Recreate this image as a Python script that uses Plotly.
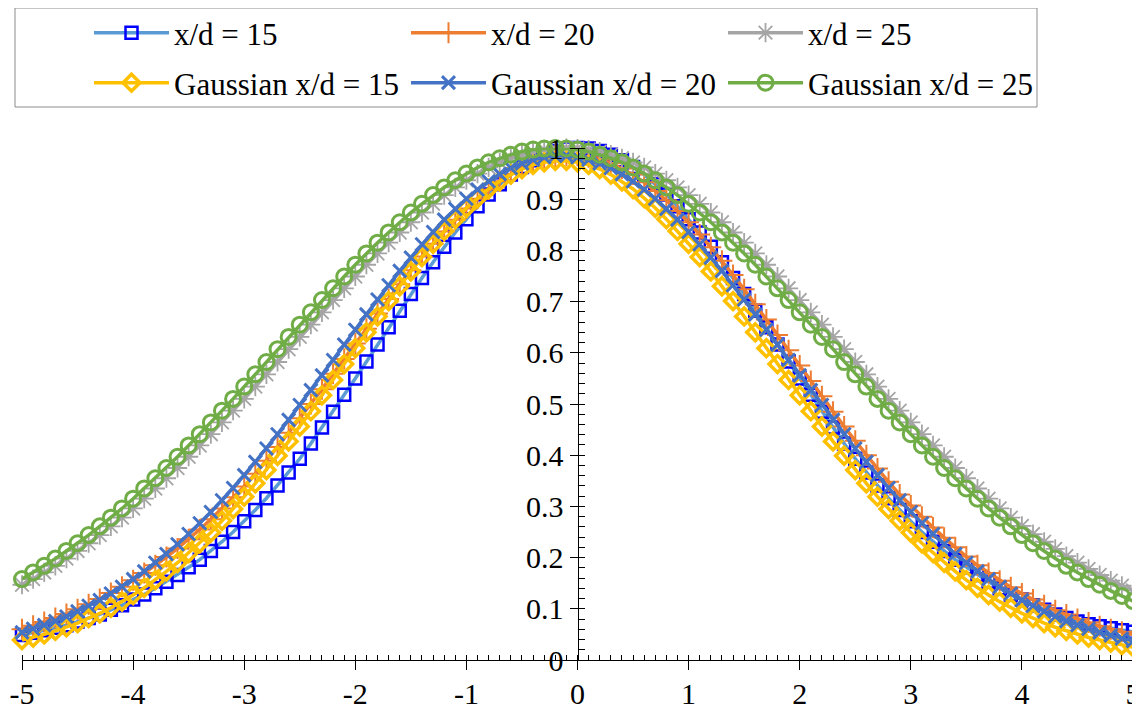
import plotly.graph_objects as go

# ---------------- data ----------------
X_POS = [-5.0, -4.9, -4.8, -4.7, -4.6, -4.5, -4.4, -4.3, -4.2, -4.1,
         -4.0, -3.9, -3.8, -3.7, -3.6, -3.5, -3.4, -3.3, -3.2, -3.1,
         -3.0, -2.9, -2.8, -2.7, -2.6, -2.5, -2.4, -2.3, -2.2, -2.1,
         -2.0, -1.9, -1.8, -1.7, -1.6, -1.5, -1.4, -1.3, -1.2, -1.1,
         -1.0, -0.9, -0.8, -0.7, -0.6, -0.5, -0.4, -0.3, -0.2, -0.1,
         0.0, 0.1, 0.2, 0.3, 0.4, 0.5, 0.6, 0.7, 0.8, 0.9,
         1.0, 1.1, 1.2, 1.3, 1.4, 1.5, 1.6, 1.7, 1.8, 1.9,
         2.0, 2.1, 2.2, 2.3, 2.4, 2.5, 2.6, 2.7, 2.8, 2.9,
         3.0, 3.1, 3.2, 3.3, 3.4, 3.5, 3.6, 3.7, 3.8, 3.9,
         4.0, 4.1, 4.2, 4.3, 4.4, 4.5, 4.6, 4.7, 4.8, 4.9, 5.0]

XD15 = [0.049, 0.053, 0.058, 0.063, 0.068, 0.075, 0.082, 0.089, 0.098, 0.107,
        0.118, 0.128, 0.140, 0.153, 0.166, 0.181, 0.196, 0.213, 0.231, 0.250,
        0.271, 0.293, 0.316, 0.341, 0.366, 0.393, 0.423, 0.454, 0.485, 0.518,
        0.550, 0.583, 0.616, 0.650, 0.682, 0.715, 0.746, 0.777, 0.807, 0.835,
        0.861, 0.886, 0.909, 0.929, 0.948, 0.963, 0.976, 0.987, 0.994, 0.999,
        1.000,
        0.999, 0.994, 0.987, 0.976, 0.963, 0.948, 0.929, 0.909, 0.886, 0.861,
        0.835, 0.807, 0.777, 0.746, 0.715, 0.682, 0.650, 0.616, 0.583, 0.550,
        0.518, 0.485, 0.454, 0.423, 0.393, 0.366, 0.341, 0.316, 0.293, 0.271,
        0.250, 0.231, 0.213, 0.196, 0.181, 0.166, 0.153, 0.140, 0.128, 0.118,
        0.107, 0.098, 0.089, 0.082, 0.075, 0.070, 0.066, 0.062, 0.058, 0.055]

XD20 = [0.060, 0.067, 0.074, 0.082, 0.090, 0.099, 0.109, 0.119, 0.131, 0.143,
        0.156, 0.170, 0.185, 0.201, 0.218, 0.236, 0.255, 0.275, 0.296, 0.318,
        0.339, 0.364, 0.389, 0.416, 0.444, 0.472, 0.500, 0.529, 0.559, 0.588,
        0.618, 0.647, 0.677, 0.705, 0.734, 0.761, 0.788, 0.813, 0.837, 0.860,
        0.882, 0.901, 0.919, 0.935, 0.949, 0.961, 0.970, 0.977, 0.982, 0.985,
        0.985, 0.982, 0.977, 0.970, 0.960, 0.948, 0.933, 0.916, 0.898, 0.877,
        0.855, 0.831, 0.806, 0.780, 0.752, 0.724, 0.695, 0.665, 0.635, 0.605,
        0.575, 0.545, 0.515, 0.485, 0.456, 0.428, 0.400, 0.374, 0.348, 0.323,
        0.302, 0.280, 0.259, 0.239, 0.220, 0.202, 0.185, 0.170, 0.155, 0.142,
        0.130, 0.118, 0.107, 0.097, 0.089, 0.080, 0.073, 0.066, 0.060, 0.055,
        0.050]

XD25 = [0.147, 0.158, 0.171, 0.184, 0.198, 0.213, 0.228, 0.244, 0.261, 0.278,
        0.296, 0.315, 0.335, 0.355, 0.375, 0.397, 0.419, 0.441, 0.464, 0.487,
        0.510, 0.534, 0.558, 0.582, 0.607, 0.631, 0.655, 0.679, 0.703, 0.726,
        0.749, 0.772, 0.794, 0.815, 0.835, 0.855, 0.874, 0.891, 0.908, 0.923,
        0.937, 0.950, 0.962, 0.972, 0.980, 0.987, 0.993, 0.997, 0.999, 1.000,
        0.999, 0.997, 0.993, 0.987, 0.980, 0.972, 0.962, 0.950, 0.937, 0.923,
        0.908, 0.891, 0.874, 0.855, 0.835, 0.815, 0.794, 0.772, 0.749, 0.726,
        0.703, 0.679, 0.655, 0.631, 0.607, 0.582, 0.558, 0.534, 0.510, 0.487,
        0.464, 0.441, 0.419, 0.397, 0.375, 0.355, 0.335, 0.315, 0.296, 0.278,
        0.262, 0.246, 0.231, 0.217, 0.203, 0.190, 0.178, 0.166, 0.155, 0.145,
        0.136]

GAUSS15 = [0.039, 0.044, 0.050, 0.057, 0.064, 0.072, 0.082, 0.091, 0.102, 0.114,
           0.127, 0.141, 0.156, 0.173, 0.190, 0.209, 0.228, 0.249, 0.272, 0.295,
           0.319, 0.345, 0.371, 0.399, 0.427, 0.456, 0.486, 0.517, 0.547, 0.578,
           0.609, 0.640, 0.671, 0.701, 0.730, 0.759, 0.787, 0.813, 0.838, 0.861,
           0.883, 0.902, 0.920, 0.935, 0.948, 0.959, 0.967, 0.972, 0.975,
           0.975, 0.972, 0.967, 0.959, 0.948, 0.935, 0.920, 0.902, 0.883, 0.861,
           0.838, 0.813, 0.787, 0.759, 0.730, 0.701, 0.671, 0.640, 0.609, 0.578,
           0.547, 0.517, 0.486, 0.456, 0.427, 0.399, 0.371, 0.345, 0.319, 0.295,
           0.272, 0.249, 0.228, 0.209, 0.190, 0.173, 0.156, 0.141, 0.127, 0.114,
           0.102, 0.091, 0.082, 0.072, 0.064, 0.057, 0.050, 0.044, 0.039, 0.034,
           0.029, 0.025]

GAUSS20 = [0.054, 0.061, 0.068, 0.076, 0.085, 0.095, 0.106, 0.117, 0.130, 0.143,
           0.158, 0.173, 0.190, 0.207, 0.226, 0.246, 0.267, 0.289, 0.312, 0.336,
           0.361, 0.387, 0.413, 0.441, 0.469, 0.498, 0.527, 0.556, 0.586, 0.616,
           0.645, 0.675, 0.704, 0.732, 0.760, 0.786, 0.812, 0.836, 0.860, 0.881,
           0.901, 0.919, 0.935, 0.949, 0.961, 0.970, 0.977, 0.982, 0.985,
           0.985, 0.982, 0.977, 0.970, 0.961, 0.949, 0.935, 0.919, 0.901, 0.881,
           0.860, 0.836, 0.812, 0.786, 0.760, 0.732, 0.704, 0.675, 0.645, 0.616,
           0.586, 0.556, 0.527, 0.498, 0.469, 0.441, 0.413, 0.387, 0.361, 0.336,
           0.312, 0.289, 0.267, 0.246, 0.226, 0.207, 0.190, 0.173, 0.158, 0.143,
           0.130, 0.117, 0.106, 0.095, 0.085, 0.076, 0.068, 0.061, 0.054, 0.048,
           0.042, 0.037]

GAUSS25 = [0.158, 0.171, 0.184, 0.198, 0.213, 0.228, 0.244, 0.261, 0.278, 0.296,
           0.315, 0.335, 0.355, 0.375, 0.397, 0.419, 0.441, 0.464, 0.487, 0.510,
           0.534, 0.558, 0.582, 0.607, 0.631, 0.655, 0.679, 0.703, 0.726, 0.749,
           0.772, 0.794, 0.815, 0.835, 0.855, 0.874, 0.891, 0.908, 0.923, 0.937,
           0.950, 0.962, 0.972, 0.980, 0.987, 0.993, 0.997, 0.999, 1.000,
           0.999, 0.997, 0.993, 0.987, 0.980, 0.972, 0.962, 0.950, 0.937, 0.923,
           0.908, 0.891, 0.874, 0.855, 0.835, 0.815, 0.794, 0.772, 0.749, 0.726,
           0.703, 0.679, 0.655, 0.631, 0.607, 0.582, 0.558, 0.534, 0.510, 0.487,
           0.464, 0.441, 0.419, 0.397, 0.375, 0.355, 0.335, 0.315, 0.296, 0.278,
           0.261, 0.244, 0.228, 0.213, 0.198, 0.184, 0.171, 0.158, 0.147, 0.135,
           0.125, 0.115]

SERIES_NAMES = ["x/d = 15", "x/d = 20", "x/d = 25",
                "Gaussian x/d = 15", "Gaussian x/d = 20", "Gaussian x/d = 25"]

X_TICK_VALUES = [-5, -4, -3, -2, -1, 0, 1, 2, 3, 4, 5]
X_TICK_LABELS = ["-5", "-4", "-3", "-2", "-1", "0", "1", "2", "3", "4", "5"]

# ---------------- styling ----------------
FONT = "Liberation Serif"
FS = 30
LEG_FS = 31

styles = [
    # (line colour, marker symbol, marker colour, marker size, marker line width, legend)
    ("#5B9BD5", "square-open", "#0000FF", 12, 2.5, "legend"),
    ("#ED7D31", "cross-thin", "#ED7D31", 15, 2.0, "legend"),
    ("#A5A5A5", "asterisk-open", "#A5A5A5", 16, 1.8, "legend"),
    ("#FFC000", "diamond-open", "#FFC000", 13, 3.5, "legend2"),
    ("#4472C4", "x-thin", "#4472C4", 13, 3.0, "legend2"),
    ("#70AD47", "circle-open", "#70AD47", 15, 3.0, "legend2"),
]
series = [XD15, XD20, XD25, GAUSS15, GAUSS20, GAUSS25]

fig = go.Figure()
for name, ys, (lc, sym, mc, ms, mlw, leg) in zip(SERIES_NAMES, series, styles):
    fig.add_trace(go.Scatter(
        x=X_POS, y=ys, name=name, mode="lines+markers",
        line=dict(color=lc, width=3.5),
        marker=dict(symbol=sym, size=ms, color=mc,
                    line=dict(color=mc, width=mlw)),
        cliponaxis=False, legend=leg,
    ))

# the page body has an 8px margin, so the figure is drawn 8px smaller
W, H = 1132, 701
ML, MR, MT, MB = 14, 7, 140, 49
PW, PH = W - ML - MR, H - MT - MB


def px_x(p):
    return (p - ML) / PW


def px_y(p):
    return (H - MB - p) / PH


legend_common = dict(
    orientation="h", xanchor="left", yanchor="middle",
    font=dict(family=FONT, size=LEG_FS, color="black"),
    bgcolor="rgba(0,0,0,0)", borderwidth=0,
    itemwidth=75, entrywidth=227, entrywidthmode="pixels",
    itemclick=False, itemdoubleclick=False,
)

fig.update_layout(
    width=W, height=H, autosize=False,
    margin=dict(l=ML, r=MR, t=MT, b=MB, pad=0, autoexpand=False),
    paper_bgcolor="white", plot_bgcolor="white",
    font=dict(family=FONT, size=FS, color="black"),
    showlegend=True,
    legend=dict(x=px_x(81), y=px_y(25), **legend_common),
    legend2=dict(x=px_x(81), y=px_y(75), **legend_common),
    xaxis=dict(
        range=[-5, 5], showgrid=False, zeroline=False, automargin=False,
        showline=True, linecolor="black", linewidth=1,
        tickmode="array", tickvals=X_TICK_VALUES, ticktext=X_TICK_LABELS,
        ticks="outside", ticklen=9, tickcolor="black", tickwidth=1,
        minor=dict(dtick=0.1, tick0=0, ticks="inside", ticklen=5,
                   tickcolor="black", tickwidth=1, showgrid=False),
        tickfont=dict(family=FONT, size=FS, color="black"),
        ticklabelstandoff=-2, ticklabeloverflow="allow",
    ),
    yaxis=dict(
        range=[0, 1], showgrid=False, zeroline=False, automargin=False,
        anchor="free", position=0.5,
        showline=True, linecolor="black", linewidth=1,
        tickmode="linear", tick0=0, dtick=0.1,
        ticks="outside", ticklen=8, tickcolor="black", tickwidth=1,
        minor=dict(dtick=0.02, tick0=0, ticks="inside", ticklen=6,
                   tickcolor="black", tickwidth=1, showgrid=False),
        tickfont=dict(family=FONT, size=FS, color="black"),
        ticklabeloverflow="allow",
    ),
    yaxis2=dict(
        range=[0, 1], overlaying="y", anchor="free", position=0.5,
        showgrid=False, zeroline=False, showline=False, automargin=False,
        tickmode="linear", tick0=0, dtick=0.1,
        ticks="inside", ticklen=8, tickcolor="black", tickwidth=1,
        showticklabels=False,
    ),
    shapes=[dict(type="rect", xref="paper", yref="paper",
                 x0=px_x(7), x1=px_x(1029), y0=px_y(99), y1=px_y(0),
                 line=dict(color="#8C8C8C", width=1), fillcolor="rgba(0,0,0,0)",
                 layer="below")],
)

fig.write_html("out.html")
